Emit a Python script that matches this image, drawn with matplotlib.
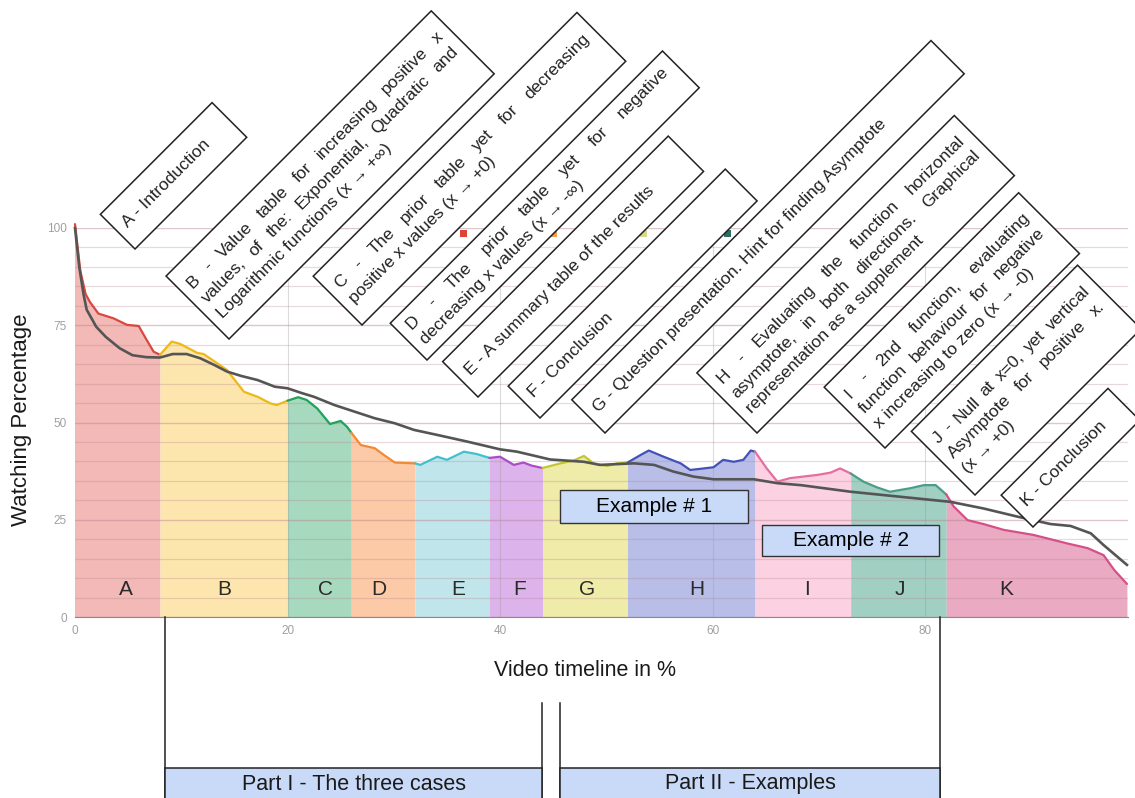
import matplotlib
matplotlib.use('Agg')
import matplotlib.pyplot as plt
import numpy as np
from matplotlib.patches import Polygon, Rectangle

plt.rcParams['font.family'] = ['Liberation Sans', 'DejaVu Sans']

# -----------------------------------------------------------
#  data
# -----------------------------------------------------------
watch_x = [0, 0.5, 1.0, 1.4, 2.2, 3.6, 4.9, 6.0, 6.75, 7.4, 8,
           9.1, 9.9, 11.5, 12.1, 13.4, 14.3, 15.9, 17.2, 18.4, 19.0, 20,
           21.0, 21.8, 22.8, 24.0, 25.0, 25.6, 26,
           26.9, 28.2, 29.1, 30.1, 31.0, 32,
           32.5, 34.1, 35.0, 36.6, 37.8, 39,
           40.0, 41.3, 42.2, 43.0, 44,
           45.7, 46.9, 47.9, 48.8, 50.1, 51.0, 52,
           53.2, 54.0, 55.4, 57.0, 57.9, 59.2, 60.1, 61.0, 62.0, 62.9, 63.6, 64,
           65.1, 66.1, 67.3, 69.8, 71.1, 72.0, 73,
           74.2, 75.5, 76.7, 78.6, 79.9, 81.0, 82,
           82.7, 84.0, 85.5, 87.4, 90.2, 93.4, 95.3, 96.8, 97.8, 99.0]
watch_y = [101, 89, 83, 81, 78, 76.8, 75.1, 74.8, 71.2, 68.2, 67.4,
           70.8, 70.2, 67.9, 67.6, 65.2, 63.5, 57.9, 56.6, 54.9, 54.5, 55.6,
           56.5, 55.8, 53.6, 49.6, 50.4, 48.9, 47.4,
           44.2, 43.4, 41.6, 39.7, 39.6, 39.5,
           39.1, 41.2, 40.4, 42.5, 41.9, 40.9,
           41.2, 39.1, 39.7, 38.9, 38.3,
           39.5, 40.2, 41.4, 39.5, 38.8, 39.5, 39.7,
           41.6, 42.8, 41.2, 39.5, 37.8, 38.2, 38.5, 40.4, 39.9, 40.4, 42.8, 42.5,
           38.2, 34.8, 35.7, 36.5, 37.1, 38.2, 36.9,
           34.8, 33.3, 32.2, 33.1, 33.9, 33.9, 31.5,
           28.4, 24.9, 23.9, 22.4, 21.1, 18.9, 17.7, 15.9, 12.1, 8.5]

avg_x = [0, 0.4, 0.8, 1.1, 2.0, 2.9, 4.2, 5.4, 6.7, 8.0, 9.2, 10.5, 11.8,
         13.1, 14.3, 15.6, 17.2, 18.8, 20.0, 21.3, 22.5, 24.4, 26.3, 28.2,
         30.1, 31.9, 34.1, 36.9, 40.0, 41.6, 44.7, 47.9, 49.4, 52.6, 54.5,
         56.3, 58.2, 60.1, 63.9, 66.1, 68.3, 73.0, 77.7, 82.4, 85.5, 88.7,
         91.8, 93.7, 95.6, 96.8, 99.0]
avg_y = [100, 90, 83, 79, 74.6, 72, 69.1, 67.3, 66.8, 66.7, 67.6, 67.6, 66.5,
         64.8, 63.1, 62.0, 60.9, 59.2, 58.8, 57.6, 56.6, 54.5, 52.8, 51.1,
         49.8, 48.1, 46.8, 45.1, 43.1, 42.5, 40.5, 39.9, 39.1, 39.5, 39.1,
         37.4, 36.1, 35.4, 35.4, 34.4, 33.9, 32.2, 30.9, 29.6, 27.9, 25.8,
         23.9, 23.4, 21.5, 18.5, 13.4]

seg_names = list('ABCDEFGHIJK')
seg_bounds = [0, 8, 20, 26, 32, 39, 44, 52, 64, 73, 82, 99]
seg_label_x = [4.8, 14.0, 23.6, 28.6, 36.1, 41.8, 48.2, 58.5, 68.9, 77.6, 87.6]

notes = [
    ["A - Introduction"],
    ["B - Value table for increasing positive x",
     "values, of the: Exponential, Quadratic and",
     "Logarithmic functions (x \u2192 +\u221e)"],
    ["C - The prior table yet for decreasing",
     "positive x values (x \u2192 +0)"],
    ["D - The prior table yet for negative",
     "decreasing x values (x \u2192 -\u221e)"],
    ["E - A summary table of the results"],
    ["F - Conclusion"],
    ["G - Question presentation. Hint for finding Asymptote"],
    ["H - Evaluating the function horizontal",
     "asymptote, in both directions. Graphical",
     "representation as a supplement"],
    ["I - 2nd function, evaluating",
     "function behaviour for negative",
     "x increasing to zero (x \u2192 -0)"],
    ["J - Null at x=0, yet vertical",
     "Asymptote for positive x.",
     "(x \u2192 +0)"],
    ["K - Conclusion"],
]

# -----------------------------------------------------------
#  styles / layout
# -----------------------------------------------------------
fill_colors = ['#f3b9b6', '#fde6ad', '#a6d9be', '#fccaa6', '#c0e6ec', '#dcb3eb',
               '#efeca9', '#b8bee8', '#fcd2e3', '#a1cfc2', '#e9aac2']
line_colors = ['#d9483d', '#eeb818', '#1fa25a', '#f28a35', '#45bfcc', '#ad4cc4',
               '#c3c630', '#4352b8', '#e36f9e', '#4c9c8a', '#d5508a']

# rotated note boxes: lowest corner (px, px), length, height in figure pixels
box_layout = [(135, 249, 158, 49), (229, 339, 375, 89), (362, 325, 373, 69),
              (427, 360, 385, 52), (478, 397, 319, 50), (540, 418, 307, 45),
              (605, 433, 508, 47), (757, 433, 364, 85), (885, 448, 275, 86),
              (975, 495, 235, 90), (1033, 527, 151, 45)]

W, H = 1135, 798
fig = plt.figure(figsize=(W / 100, H / 100), dpi=100)
ax = fig.add_axes([75 / W, (H - 617) / H, (1128 - 75) / W, (617 - 228) / H])
ax.set_xlim(0, 99.1)
ax.set_ylim(0, 100)

wx = np.array(watch_x)
wy = np.array(watch_y)
for i, name in enumerate(seg_names):
    s, e = seg_bounds[i], seg_bounds[i + 1]
    m = (wx >= s) & (wx <= e)
    ax.fill_between(wx[m], 0, np.minimum(wy[m], 100), color=fill_colors[i], lw=0, zorder=1)
    ax.plot(wx[m], wy[m], color=line_colors[i], lw=1.6, zorder=3, clip_on=False,
            solid_capstyle='round')
    ax.text(seg_label_x[i], 7, name, ha='center', va='center', fontsize=15,
            color='#2a2a2a', zorder=4)

ax.plot(avg_x, avg_y, color='#555555', lw=1.9, zorder=3.5, clip_on=False)

# grid
ax.set_yticks([0, 25, 50, 75, 100])
ax.set_yticks(np.arange(0, 101, 5), minor=True)
ax.set_xticks([0, 20, 40, 60, 80])
ax.set_axisbelow(False)
ax.grid(axis='y', which='minor', color='#b4848f', alpha=0.3, lw=0.9)
ax.grid(axis='y', which='major', color='#b4848f', alpha=0.45, lw=1.0)
ax.grid(axis='x', which='major', color='#9a9a9a', alpha=0.35, lw=0.8)
ax.tick_params(which='both', length=0, labelsize=8.5, labelcolor='#a0a0a0', pad=6)
for sp in ['top', 'right', 'left']:
    ax.spines[sp].set_visible(False)
ax.spines['bottom'].set_color('#8a8a8a')

# example boxes
ax.add_patch(Rectangle((45.6, 24.2), 17.7, 8.4, fc='#c9daf8', ec='#333333', lw=1, zorder=4))
ax.text(45.6 + 17.7 / 2, 24.2 + 4.2, 'Example # 1', ha='center', va='center', fontsize=15, zorder=5)
ax.add_patch(Rectangle((64.7, 15.7), 16.6, 8.0, fc='#c9daf8', ec='#333333', lw=1, zorder=4))
ax.text(64.7 + 16.6 / 2, 15.7 + 4.0, 'Example # 2', ha='center', va='center', fontsize=15, zorder=5)

fig.text(22 / W, 1 - 420 / H, 'Watching Percentage', rotation=90, ha='center', va='center',
         fontsize=16, color='#1a1a1a')
fig.text(585 / W, 1 - 670 / H, 'Video timeline in %', ha='center', va='center',
         fontsize=15.5, color='#1a1a1a')

# -----------------------------------------------------------
#  overlay in figure pixels for the rotated notes and brackets
# -----------------------------------------------------------
ov = fig.add_axes([0, 0, 1, 1])
ov.set_xlim(0, W)
ov.set_ylim(H, 0)
ov.axis('off')
ov.patch.set_alpha(0)

# remains of the old legend
for (lx, col) in [(463, '#db4437'), (553, '#f4a04a'), (643, '#d8d890'), (727, '#2e6e60')]:
    ov.add_patch(Rectangle((lx - 3.5, 229.5), 7, 7, fc=col, ec='none', zorder=2))

renderer = fig.canvas.get_renderer()
c45 = np.cos(np.pi / 4)
u = np.array([c45, -c45])
v = np.array([-c45, -c45])
FS = 12.5
LH = 21


def word_width(word):
    t = ov.text(0, 0, word, fontsize=FS)
    wd = t.get_window_extent(renderer).width
    t.remove()
    return wd


space_w = word_width('a b') - word_width('ab')

for (bx, by, bw, bh), lines in zip(box_layout, notes):
    p0 = np.array([bx, by], dtype=float)
    ov.add_patch(Polygon([p0, p0 + bw * u, p0 + bw * u + bh * v, p0 + bh * v], closed=True,
                         fc='white', ec='#222222', lw=1.1, zorder=5))
    n = len(lines)
    pad = 10
    for i, line in enumerate(lines):
        t = bh / 2 + (n - 1) / 2 * LH - i * LH
        words = line.split()
        if i == n - 1 or len(words) < 2:
            pos = p0 + pad * u + t * v
            ov.text(pos[0], pos[1], line, rotation=45, rotation_mode='anchor', ha='left',
                    va='center', fontsize=FS, color='#222222', zorder=6)
            continue
        widths = [word_width(wd) for wd in words]
        gap = (bw - 2 * pad - sum(widths)) / (len(words) - 1)
        gap = max(gap, space_w)
        s = pad
        for wd, ww in zip(words, widths):
            pos = p0 + s * u + t * v
            ov.text(pos[0], pos[1], wd, rotation=45, rotation_mode='anchor', ha='left',
                    va='center', fontsize=FS, color='#222222', zorder=6)
            s += ww + gap

# bracket lines and part boxes
for lx, y0 in [(165, 617), (940, 617), (542, 703), (560, 703)]:
    ov.plot([lx, lx], [y0, H + 5], color='#222222', lw=1.1, zorder=3)
for (x0, x1, label) in [(165, 542, 'Part I - The three cases'), (560, 940, 'Part II - Examples')]:
    ov.add_patch(Rectangle((x0, 768), x1 - x0, 40, fc='#c9daf8', ec='#222222', lw=1.1, zorder=4))
    ov.text((x0 + x1) / 2, 784, label, ha='center', va='center', fontsize=15.5,
            color='#1a1a1a', zorder=5)

fig.savefig('out.png', dpi=100)
